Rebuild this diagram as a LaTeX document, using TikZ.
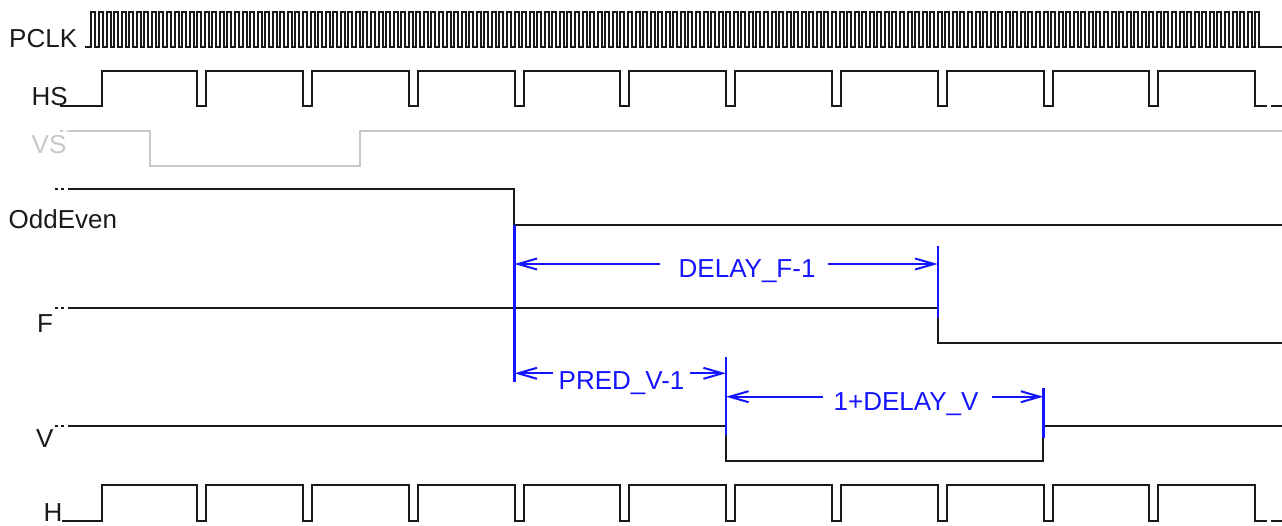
\documentclass[tikz,border=0pt]{standalone}
\usepackage{fontspec}
\setmainfont{Liberation Sans}
\usetikzlibrary{arrows.meta}
\definecolor{sig}{HTML}{1A1A1A}
\definecolor{vsgray}{HTML}{C8C8C8}
\definecolor{dimblue}{HTML}{1414FF}
\begin{document}
\begin{tikzpicture}[x=1pt,y=-1pt,
  wave/.style={draw=sig, line width=2.1pt, line join=miter},
  wavegray/.style={draw=vsgray, line width=2.1pt, line join=miter},
  lead/.style={draw=sig, line width=2.1pt, dash pattern=on 3pt off 2.5pt},
  leadgray/.style={draw=vsgray, line width=2.1pt, dash pattern=on 3pt off 2.5pt},
  siglabel/.style={anchor=base west, inner sep=0pt, text=sig, font=\fontsize{26}{30}\selectfont},
  dimline/.style={draw=dimblue, line width=2.2pt},
  dimarrow/.style={draw=dimblue, line width=2pt, -{Straight Barb[length=19pt,width=11pt]}},
  dimtext/.style={anchor=base west, inner sep=0pt, text=dimblue, font=\fontsize{26}{30}\selectfont}
]
\useasboundingbox (0,0) rectangle (1282,525);

% ---------- labels ----------
\node[siglabel] (lpclk) at (9,47) {PCLK};
\node[siglabel] (lhs) at (31.5,105) {HS};
\node[siglabel, text=vsgray] (lvs) at (31.5,153) {VS};
\node[siglabel] (loe) at (8.5,228) {OddEven};
\node[siglabel] (lf) at (37,332) {F};
\node[siglabel] (lv) at (36,447) {V};
\node[siglabel] (lh) at (43.5,521.5) {H};

% ---------- PCLK ----------
\draw[wave] (85,47) -- (91,47)
  foreach \k in {0,...,154} {
    -- ({round(91.4+\k*7.557)},47) -- ({round(91.4+\k*7.557)},12)
    -- ({round(91.4+\k*7.557)+4},12) -- ({round(91.4+\k*7.557)+4},47)
  } -- (1282,47);

% ---------- HS ----------
\draw[wave] (60,106) -- (102,106) -- (102,71)
  foreach \k in {0,...,9} {
    -- ({197.2+\k*105.8},71) -- ({197.2+\k*105.8},106)
    -- ({206.2+\k*105.8},106) -- ({206.2+\k*105.8},71)
  } -- (1255,71) -- (1255,106) -- (1267,106);
\draw[wave] (1271,106) -- (1282,106);

% ---------- VS ----------
\draw[leadgray] (60,131) -- (67,131);
\draw[wavegray] (68,131) -- (150,131) -- (150,166) -- (360,166) -- (360,131) -- (1282,131);

% ---------- OddEven ----------
\draw[lead] (55,189) -- (65,189);
\draw[wave] (68,189) -- (514.4,189) -- (514.4,225) -- (1282,225);

% ---------- F ----------
\draw[lead] (55,308) -- (65,308);
\draw[wave] (68,308) -- (937.6,308) -- (937.6,343) -- (1282,343);

% ---------- V ----------
\draw[lead] (55,426) -- (65,426);
\draw[wave] (68,426) -- (726,426) -- (726,461) -- (1043.4,461) -- (1043.4,426) -- (1282,426);

% ---------- H ----------
\draw[wave] (62,521) -- (102,521) -- (102,485)
  foreach \k in {0,...,9} {
    -- ({197.2+\k*105.8},485) -- ({197.2+\k*105.8},521)
    -- ({206.2+\k*105.8},521) -- ({206.2+\k*105.8},485)
  } -- (1255,485) -- (1255,521) -- (1267,521);
\draw[wave] (1271,521) -- (1282,521);

% ---------- dimension markers ----------
\coordinate (oeT) at (514.4,225);
\coordinate (oeB) at (514.4,381.7);
\coordinate (fT) at (937.6,246);
\coordinate (fB) at (937.6,318);
\coordinate (vaT) at (726,357);
\coordinate (vaB) at (726,435);
\coordinate (vbT) at (1043.4,388);
\coordinate (vbB) at (1043.4,438);
\draw[dimline] (oeT) -- (oeB);
\draw[dimline] (fT) -- (fB);
\draw[dimline] (vaT) -- (vaB);
\draw[dimline] (vbT) -- (vbB);

% DELAY_F-1
\coordinate (dfL) at (514.4,264);
\coordinate (dfl) at (660,264);
\coordinate (dfr) at (828,264);
\coordinate (dfR) at (937.6,264);
\draw[dimarrow] (dfl) -- (dfL);
\draw[dimarrow] (dfr) -- (dfR);
\node[dimtext] (tdf) at (678.5,277.3) {DELAY\_F-1};

% PRED_V-1
\coordinate (pvL) at (514.4,373.3);
\coordinate (pvl) at (553,373.3);
\coordinate (pvr) at (690,373.3);
\coordinate (pvR) at (726,373.3);
\draw[dimarrow] (pvl) -- (pvL);
\draw[dimarrow] (pvr) -- (pvR);
\node[dimtext] (tpv) at (558.5,389) {PRED\_V-1};

% 1+DELAY_V
\coordinate (dvL) at (726,396.7);
\coordinate (dvl) at (823,396.7);
\coordinate (dvr) at (991.7,396.7);
\coordinate (dvR) at (1043.4,396.7);
\draw[dimarrow] (dvl) -- (dvL);
\draw[dimarrow] (dvr) -- (dvR);
\node[dimtext] (tdv) at (833.5,410.7) {1+DELAY\_V};
\end{tikzpicture}
\end{document}
